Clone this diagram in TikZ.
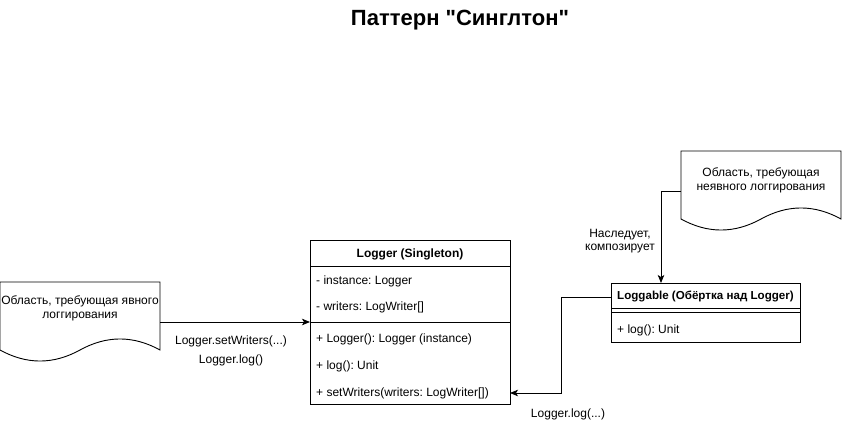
\documentclass[tikz,border=0pt]{standalone}
\usepackage{fontspec}
\setmainfont{Liberation Sans}[Ligatures=TeXOff]
\usetikzlibrary{arrows.meta}
\frenchspacing
\tikzset{
  txt/.style={inner sep=0pt, font=\fontsize{12}{14}\selectfont},
  ttl/.style={inner sep=0pt, font=\fontsize{12}{14}\selectfont\bfseries},
  box/.style={draw, line width=0.9pt, inner sep=0pt, anchor=north west},
  conn/.style={line width=0.9pt, -{Stealth[length=8pt,width=6.5pt,inset=2pt]}},
  docshape/.style={draw, line width=0.9pt, fill=white},
}
\begin{document}
\begin{tikzpicture}[x=1pt,y=-1pt]
\useasboundingbox[fill=white] (0,0) rectangle (851,425);

% title
\node[inner sep=0pt, font=\fontsize{22}{25}\selectfont\bfseries] (title) at (460,20) {Паттерн "Синглтон"};

% left document
\draw[docshape] (0,282) -- (160,282) -- (160,350) .. controls (133.3,335.3) and (106.7,335.3) .. (80,350) .. controls (53.3,364.7) and (26.7,364.7) .. (0,350) -- cycle;
\node[inner sep=0pt, minimum width=160pt, minimum height=68pt, anchor=north west] (leftdoc) at (0,282) {};
\node[txt, align=center] (leftdoctext) at (80,308) {Область, требующая явного\\логгирования};

% right document
\draw[docshape] (681,151) -- (841,151) -- (841,219) .. controls (814.3,204.3) and (787.7,204.3) .. (761,219) .. controls (734.3,233.7) and (707.7,233.7) .. (681,219) -- cycle;
\node[inner sep=0pt, minimum width=160pt, minimum height=68pt, anchor=north west] (rightdoc) at (681,151) {};
\node[txt, align=center] (rightdoctext) at (761,180) {Область, требующая\\неявного логгирования};

% Logger class
\node[box, minimum width=200pt, minimum height=164pt] (logger) at (310,240) {};
\draw[line width=0.9pt] (310,266) -- (510,266);
\draw[line width=0.9pt] (310,322) -- (510,322);
\node[ttl] (loggertitle) at (410,254) {Logger (Singleton)};
\node[txt, anchor=west] (a1) at (316,281) {- instance: Logger};
\node[txt, anchor=west] (a2) at (316,307) {- writers: LogWriter[]};
\node[txt, anchor=west] (m1) at (316,339) {+ Logger(): Logger (instance)};
\node[txt, anchor=west] (m2) at (316,366) {+ log(): Unit};
\node[txt, anchor=west] (m3) at (316,393) {+ setWriters(writers: LogWriter[])};

% Loggable class
\node[box, minimum width=189pt, minimum height=59pt] (loggable) at (611,283) {};
\draw[line width=0.9pt] (611,308) -- (800,308);
\draw[line width=0.9pt] (611,312) -- (800,312);
\node[inner sep=0pt, font=\fontsize{11.6}{14}\selectfont\bfseries] (loggabletitle) at (705.5,296) {Loggable (Обёртка над Logger)};
\node[txt, anchor=west] (lm1) at (617,330) {+ log(): Unit};

% connectors
\coordinate (lin) at (310,322);
\draw[conn] (leftdoc.east |- lin) -- (lin);
\node[txt] (lbl1) at (231,341) {Logger.setWriters(...)};
\node[txt] (lbl2) at (231,360) {Logger.log()};

\coordinate (lgout) at (611,297);
\coordinate (lgin) at (510,393);
\draw[conn] (lgout) -- (561,297) -- (561,393) -- (lgin);
\node[txt] (lbl3) at (568,414) {Logger.log(...)};

\coordinate (rdout) at (681,191);
\draw[conn] (rdout) -- (661,191) -- (loggable.north -| 661,0);
\node[txt, align=center, font=\fontsize{12}{13}\selectfont] (lbl4) at (620,241) {Наследует,\\композирует};
\end{tikzpicture}
\end{document}
